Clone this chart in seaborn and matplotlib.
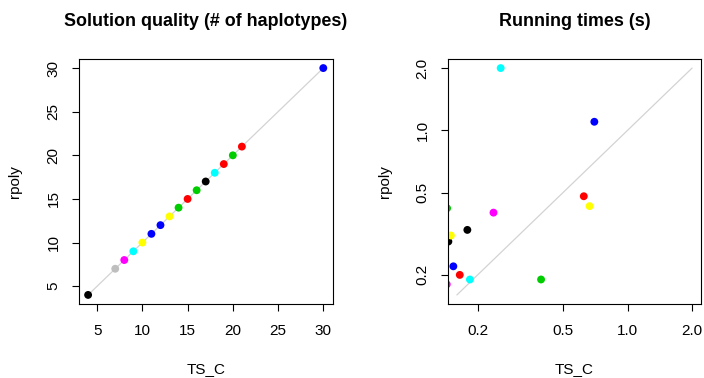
import numpy as np
import pandas as pd
import matplotlib
matplotlib.use("Agg")
import matplotlib.pyplot as plt
import seaborn as sns

# Solution quality: number of haplotypes found by each method
quality_ts = [4, 7, 8, 9, 10, 11, 12, 13, 14, 15, 16, 17, 18, 19, 20, 21, 30]
quality_rp = [4, 7, 8, 9, 10, 11, 12, 13, 14, 15, 16, 17, 18, 19, 20, 21, 30]
quality_col = ["black", "gray", "magenta", "cyan", "yellow", "blue", "blue",
               "yellow", "green3", "red", "green3", "black", "cyan", "red",
               "green3", "red", "blue"]

# Running times in seconds
time_ts = [0.256, 0.70, 0.625, 0.665, 0.144, 0.237, 0.179, 0.146, 0.150,
           0.154, 0.165, 0.184, 0.395, 0.1435]
time_rp = [2.0, 1.10, 0.48, 0.43, 0.42, 0.40, 0.33, 0.29, 0.31,
           0.22, 0.20, 0.19, 0.19, 0.18]
time_col = ["cyan", "blue", "red", "yellow", "green3", "magenta", "black",
            "black", "yellow", "blue", "red", "cyan", "green3", "magenta"]
time_range = [0.16, 2.0]

quality_ticks = [5, 10, 15, 20, 25, 30]
time_ticks = [0.2, 0.5, 1.0, 2.0]
time_ticklabels = ["0.2", "0.5", "1.0", "2.0"]

r_colors = {"black": "#000000", "red": "#FF0000", "green3": "#00CD00",
            "blue": "#0000FF", "cyan": "#00FFFF", "magenta": "#FF00FF",
            "yellow": "#FFFF00", "gray": "#BEBEBE"}

sns.set_style("ticks")
plt.rcParams["font.family"] = ["Liberation Sans", "DejaVu Sans"]
plt.rcParams["text.color"] = "black"
plt.rcParams["axes.labelcolor"] = "black"

W, H = 704, 378
fig = plt.figure(figsize=(W / 100, H / 100), dpi=100)
fig.patch.set_facecolor("white")

ax_top, ax_bot, ax_w = 59, 304, 254
ax_h = ax_bot - ax_top
lefts = [78.7, 447.5]
axes = [fig.add_axes([l / W, (H - ax_bot) / H, ax_w / W, ax_h / H]) for l in lefts]

LABEL_SIZE = 11.0
TITLE_SIZE = 12.9


def expand(lo, hi, frac=0.04):
    d = (hi - lo) * frac
    return lo - d, hi + d


def style_axis(ax, title):
    for s in ax.spines.values():
        s.set_color("black")
        s.set_linewidth(0.8)
    ax.set_facecolor("white")
    ax.tick_params(axis="both", which="major", direction="out", length=5.2,
                   width=0.8, color="black", labelsize=LABEL_SIZE,
                   labelcolor="black")
    ax.tick_params(axis="x", pad=8.9)
    ax.tick_params(axis="y", pad=7.8, labelrotation=90)
    for lab in ax.get_yticklabels():
        lab.set_va("center")
    ax.minorticks_off()
    ax.text(0.5, 1 + (ax_top - 21.7) / ax_h, title, transform=ax.transAxes,
            ha="center", va="center", fontsize=TITLE_SIZE, fontweight="bold",
            color="black")
    ax.set_xlabel("TS_C", fontsize=LABEL_SIZE, color="black")
    ax.set_ylabel("rpoly", fontsize=LABEL_SIZE, color="black")
    ax.xaxis.set_label_coords(0.5, -65.3 / ax_h)
    ax.xaxis.label.set_va("center")
    ax.yaxis.label.set_va("center")


# Left panel: solution quality
ax = axes[0]
dq = pd.DataFrame({"TS_C": quality_ts, "rpoly": quality_rp, "col": quality_col})
lo = min(dq["TS_C"].min(), dq["rpoly"].min())
hi = max(dq["TS_C"].max(), dq["rpoly"].max())
ax.plot([lo, hi], [lo, hi], color="#D3D3D3", lw=0.9, zorder=1)
sns.scatterplot(data=dq, x="TS_C", y="rpoly", hue="col", palette=r_colors,
                s=32, linewidth=0, legend=False, ax=ax, zorder=2)
ax.set_xlim(*expand(dq["TS_C"].min(), dq["TS_C"].max()))
ax.set_ylim(*expand(dq["rpoly"].min(), dq["rpoly"].max()))
ax.set_xticks(quality_ticks)
ax.set_yticks(quality_ticks)
style_axis(ax, "Solution quality (# of haplotypes)")
ax.yaxis.set_label_coords(-63.7 / ax_w, 0.5)

# Right panel: running times on log-log axes
ax = axes[1]
dt = pd.DataFrame({"TS_C": time_ts, "rpoly": time_rp, "col": time_col})
ax.plot(time_range, time_range, color="#D3D3D3", lw=0.9, zorder=1)
sns.scatterplot(data=dt, x="TS_C", y="rpoly", hue="col", palette=r_colors,
                s=32, linewidth=0, legend=False, ax=ax, zorder=2)
ax.set_xscale("log")
ax.set_yscale("log")
llo, lhi = expand(np.log10(time_range[0]), np.log10(time_range[1]))
ax.set_xlim(10 ** llo, 10 ** lhi)
ax.set_ylim(10 ** llo, 10 ** lhi)
ax.set_xticks(time_ticks)
ax.set_xticklabels(time_ticklabels)
ax.set_yticks(time_ticks)
ax.set_yticklabels(time_ticklabels)
style_axis(ax, "Running times (s)")
ax.yaxis.set_label_coords(-62.5 / ax_w, 0.5)

fig.savefig("out.png", dpi=100, facecolor="white")
